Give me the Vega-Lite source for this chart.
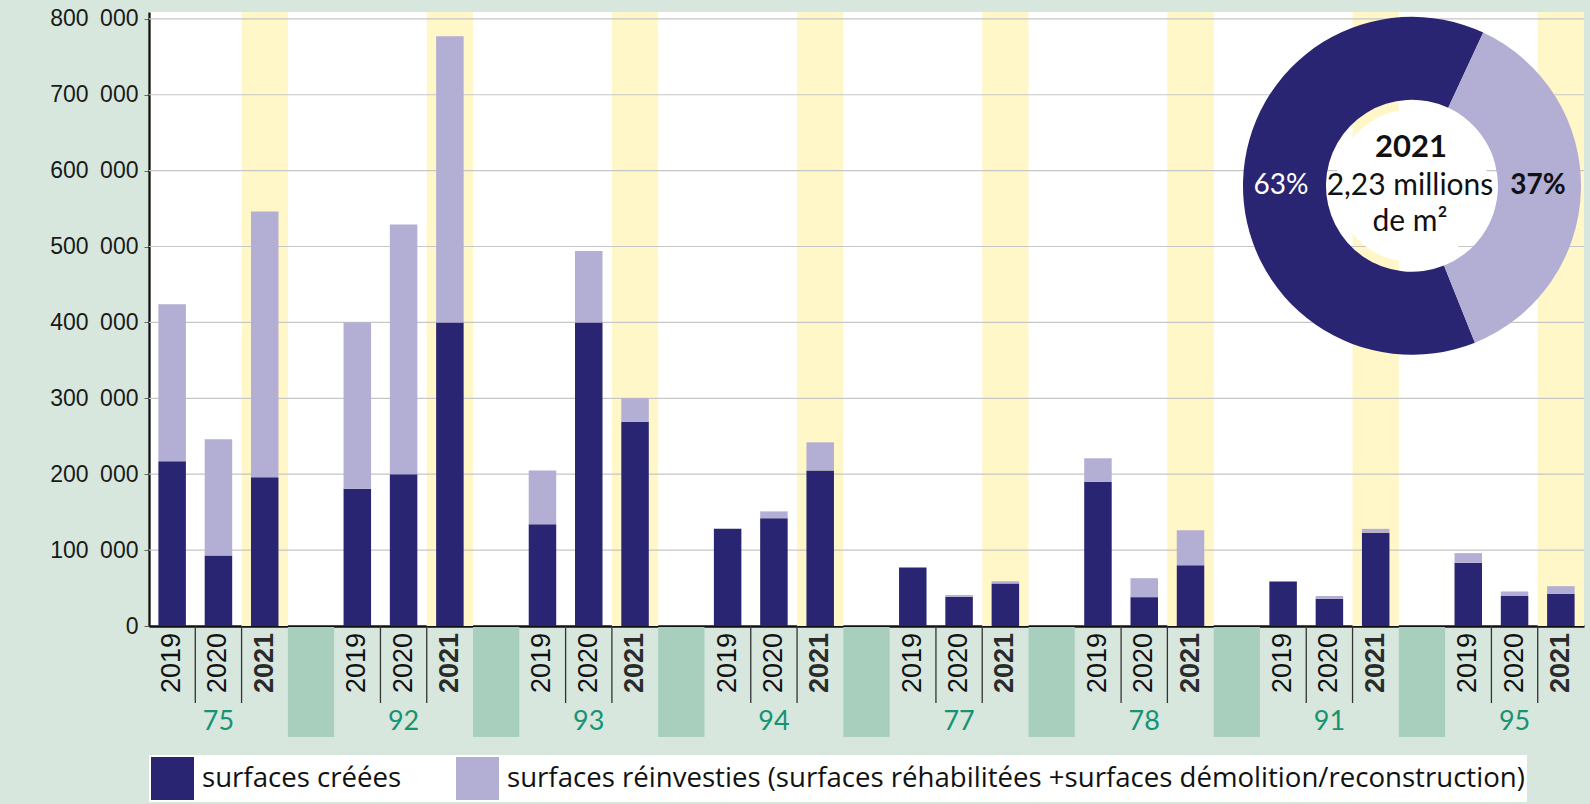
{
  "$schema": "https://vega.github.io/schema/vega-lite/v6.json",
  "background": "#d7e7de",
  "padding": {"left": 49, "top": 7, "right": 7, "bottom": 6},
  "bounds": "flush",
  "spacing": 0,
  "config": {
    "view": {"stroke": null},
    "font": "Liberation Sans",
    "axisX": {"labels": false, "ticks": false, "grid": false, "domainColor": "#111111", "domainWidth": 2.3},
    "axisY": {"grid": false, "domainColor": "#111111", "domainWidth": 2.3, "tickColor": "#666666", "tickSize": 5, "tickWidth": 1, "labelFont": "Liberation Sans", "labelFontSize": 23, "labelColor": "#1a1a1a", "labelPadding": 6},
    "legend": {
      "orient": "none", "legendX": 0, "legendY": 743, "direction": "horizontal",
      "symbolType": "square", "symbolSize": 1849, "symbolStrokeWidth": 0, "symbolOpacity": 1,
      "labelFont": "Open Sans", "labelFontSize": 27.6, "labelColor": "#111111", "labelLimit": 2000,
      "labelOffset": 8, "columnPadding": 54, "fillColor": "white", "padding": 2
    }
  },
  "datasets": {
    "bars": [
      {"slot": "75-2019", "dept": "75", "year": "2019", "type": "surfaces créées", "value": 217000},
      {"slot": "75-2019", "dept": "75", "year": "2019", "type": "surfaces réinvesties (surfaces réhabilitées +surfaces démolition/reconstruction)", "value": 207000},
      {"slot": "75-2020", "dept": "75", "year": "2020", "type": "surfaces créées", "value": 93000},
      {"slot": "75-2020", "dept": "75", "year": "2020", "type": "surfaces réinvesties (surfaces réhabilitées +surfaces démolition/reconstruction)", "value": 153000},
      {"slot": "75-2021", "dept": "75", "year": "2021", "type": "surfaces créées", "value": 196000},
      {"slot": "75-2021", "dept": "75", "year": "2021", "type": "surfaces réinvesties (surfaces réhabilitées +surfaces démolition/reconstruction)", "value": 350000},
      {"slot": "92-2019", "dept": "92", "year": "2019", "type": "surfaces créées", "value": 181000},
      {"slot": "92-2019", "dept": "92", "year": "2019", "type": "surfaces réinvesties (surfaces réhabilitées +surfaces démolition/reconstruction)", "value": 219000},
      {"slot": "92-2020", "dept": "92", "year": "2020", "type": "surfaces créées", "value": 200000},
      {"slot": "92-2020", "dept": "92", "year": "2020", "type": "surfaces réinvesties (surfaces réhabilitées +surfaces démolition/reconstruction)", "value": 329000},
      {"slot": "92-2021", "dept": "92", "year": "2021", "type": "surfaces créées", "value": 400000},
      {"slot": "92-2021", "dept": "92", "year": "2021", "type": "surfaces réinvesties (surfaces réhabilitées +surfaces démolition/reconstruction)", "value": 377000},
      {"slot": "93-2019", "dept": "93", "year": "2019", "type": "surfaces créées", "value": 134000},
      {"slot": "93-2019", "dept": "93", "year": "2019", "type": "surfaces réinvesties (surfaces réhabilitées +surfaces démolition/reconstruction)", "value": 71000},
      {"slot": "93-2020", "dept": "93", "year": "2020", "type": "surfaces créées", "value": 400000},
      {"slot": "93-2020", "dept": "93", "year": "2020", "type": "surfaces réinvesties (surfaces réhabilitées +surfaces démolition/reconstruction)", "value": 94000},
      {"slot": "93-2021", "dept": "93", "year": "2021", "type": "surfaces créées", "value": 269000},
      {"slot": "93-2021", "dept": "93", "year": "2021", "type": "surfaces réinvesties (surfaces réhabilitées +surfaces démolition/reconstruction)", "value": 31000},
      {"slot": "94-2019", "dept": "94", "year": "2019", "type": "surfaces créées", "value": 128000},
      {"slot": "94-2019", "dept": "94", "year": "2019", "type": "surfaces réinvesties (surfaces réhabilitées +surfaces démolition/reconstruction)", "value": 0},
      {"slot": "94-2020", "dept": "94", "year": "2020", "type": "surfaces créées", "value": 142000},
      {"slot": "94-2020", "dept": "94", "year": "2020", "type": "surfaces réinvesties (surfaces réhabilitées +surfaces démolition/reconstruction)", "value": 9000},
      {"slot": "94-2021", "dept": "94", "year": "2021", "type": "surfaces créées", "value": 205000},
      {"slot": "94-2021", "dept": "94", "year": "2021", "type": "surfaces réinvesties (surfaces réhabilitées +surfaces démolition/reconstruction)", "value": 37000},
      {"slot": "77-2019", "dept": "77", "year": "2019", "type": "surfaces créées", "value": 77000},
      {"slot": "77-2019", "dept": "77", "year": "2019", "type": "surfaces réinvesties (surfaces réhabilitées +surfaces démolition/reconstruction)", "value": 0},
      {"slot": "77-2020", "dept": "77", "year": "2020", "type": "surfaces créées", "value": 38500},
      {"slot": "77-2020", "dept": "77", "year": "2020", "type": "surfaces réinvesties (surfaces réhabilitées +surfaces démolition/reconstruction)", "value": 2300},
      {"slot": "77-2021", "dept": "77", "year": "2021", "type": "surfaces créées", "value": 56000},
      {"slot": "77-2021", "dept": "77", "year": "2021", "type": "surfaces réinvesties (surfaces réhabilitées +surfaces démolition/reconstruction)", "value": 3000},
      {"slot": "78-2019", "dept": "78", "year": "2019", "type": "surfaces créées", "value": 190000},
      {"slot": "78-2019", "dept": "78", "year": "2019", "type": "surfaces réinvesties (surfaces réhabilitées +surfaces démolition/reconstruction)", "value": 31000},
      {"slot": "78-2020", "dept": "78", "year": "2020", "type": "surfaces créées", "value": 38000},
      {"slot": "78-2020", "dept": "78", "year": "2020", "type": "surfaces réinvesties (surfaces réhabilitées +surfaces démolition/reconstruction)", "value": 25000},
      {"slot": "78-2021", "dept": "78", "year": "2021", "type": "surfaces créées", "value": 80000},
      {"slot": "78-2021", "dept": "78", "year": "2021", "type": "surfaces réinvesties (surfaces réhabilitées +surfaces démolition/reconstruction)", "value": 46000},
      {"slot": "91-2019", "dept": "91", "year": "2019", "type": "surfaces créées", "value": 58500},
      {"slot": "91-2019", "dept": "91", "year": "2019", "type": "surfaces réinvesties (surfaces réhabilitées +surfaces démolition/reconstruction)", "value": 0},
      {"slot": "91-2020", "dept": "91", "year": "2020", "type": "surfaces créées", "value": 36000},
      {"slot": "91-2020", "dept": "91", "year": "2020", "type": "surfaces réinvesties (surfaces réhabilitées +surfaces démolition/reconstruction)", "value": 3500},
      {"slot": "91-2021", "dept": "91", "year": "2021", "type": "surfaces créées", "value": 123000},
      {"slot": "91-2021", "dept": "91", "year": "2021", "type": "surfaces réinvesties (surfaces réhabilitées +surfaces démolition/reconstruction)", "value": 5000},
      {"slot": "95-2019", "dept": "95", "year": "2019", "type": "surfaces créées", "value": 83500},
      {"slot": "95-2019", "dept": "95", "year": "2019", "type": "surfaces réinvesties (surfaces réhabilitées +surfaces démolition/reconstruction)", "value": 12500},
      {"slot": "95-2020", "dept": "95", "year": "2020", "type": "surfaces créées", "value": 39500},
      {"slot": "95-2020", "dept": "95", "year": "2020", "type": "surfaces réinvesties (surfaces réhabilitées +surfaces démolition/reconstruction)", "value": 6000},
      {"slot": "95-2021", "dept": "95", "year": "2021", "type": "surfaces créées", "value": 42500},
      {"slot": "95-2021", "dept": "95", "year": "2021", "type": "surfaces réinvesties (surfaces réhabilitées +surfaces démolition/reconstruction)", "value": 10000}
    ],
    "gaps": [{"slot": "g1"}, {"slot": "g2"}, {"slot": "g3"}, {"slot": "g4"}, {"slot": "g5"}, {"slot": "g6"}, {"slot": "g7"}],
    "grid": [{"value": 100000}, {"value": 200000}, {"value": 300000}, {"value": 400000}, {"value": 500000}, {"value": 600000}, {"value": 700000}, {"value": 800000}],
    "donut": [
      {"type": "surfaces créées", "share": 63, "label": "63%"},
      {"type": "surfaces réinvesties (surfaces réhabilitées +surfaces démolition/reconstruction)", "share": 37, "label": "37%"}
    ],
    "center": [{"year": "2021", "total": "2,23 millions\nde m²"}]
  },
  "vconcat": [
    {
      "width": 1435,
      "height": 614,
      "view": {"fill": "white", "stroke": null},
      "layer": [
        {
          "data": {"name": "bars"},
          "transform": [{"filter": "datum.year === '2021' && datum.type === 'surfaces créées'"}],
          "mark": {"type": "bar", "color": "#fff7c7", "width": {"band": 1}},
          "encoding": {
            "x": {"field": "slot", "type": "nominal", "title": null, "scale": {"domain": ["75-2019","75-2020","75-2021","g1","92-2019","92-2020","92-2021","g2","93-2019","93-2020","93-2021","g3","94-2019","94-2020","94-2021","g4","77-2019","77-2020","77-2021","g5","78-2019","78-2020","78-2021","g6","91-2019","91-2020","91-2021","g7","95-2019","95-2020","95-2021"], "paddingInner": 0, "paddingOuter": 0}},
            "y": {"datum": 809000, "type": "quantitative", "scale": {"domain": [0, 809000], "nice": false}}
          }
        },
        {
          "data": {"name": "grid"},
          "mark": {"type": "rule", "color": "#c6c6c6", "strokeWidth": 1.2},
          "encoding": {
            "y": {"field": "value", "type": "quantitative", "title": null, "scale": {"domain": [0, 809000], "nice": false}}
          }
        },
        {
          "data": {"name": "bars"},
          "mark": {"type": "bar", "width": {"band": 0.594}},
          "encoding": {
            "x": {"field": "slot", "type": "nominal", "title": null},
            "y": {"field": "value", "type": "quantitative", "stack": "zero", "title": null, "scale": {"domain": [0, 809000], "nice": false}, "axis": {"values": [0, 100000, 200000, 300000, 400000, 500000, 600000, 700000, 800000], "labelExpr": "replace(format(datum.value, ','), ',', '\u2002')"}},
            "color": {"field": "type", "type": "nominal", "title": null, "scale": {"domain": ["surfaces créées", "surfaces réinvesties (surfaces réhabilitées +surfaces démolition/reconstruction)"], "range": ["#2a2572", "#b3aed3"]}},
            "order": {"field": "type", "type": "nominal", "sort": "ascending"}
          }
        },
        {
          "data": {"name": "donut"},
          "mark": {"type": "arc", "outerRadius": 169, "innerRadius": 86, "thetaOffset": 2.76, "theta2Offset": 2.76, "xOffset": -10, "stroke": null},
          "encoding": {
            "x": {"datum": "g7", "type": "nominal"},
            "y": {"datum": 580000, "type": "quantitative"},
            "theta": {"field": "share", "type": "quantitative", "stack": true},
            "color": {"field": "type", "type": "nominal", "title": null}
          }
        },
        {
          "data": {"name": "center"},
          "mark": {"type": "point", "shape": "circle", "filled": true, "color": "white", "opacity": 1, "size": 23235, "strokeWidth": 0, "xOffset": -10},
          "encoding": {
            "x": {"datum": "g7", "type": "nominal"},
            "y": {"datum": 580000, "type": "quantitative"}
          }
        },
        {
          "data": {"name": "center"},
          "mark": {"type": "text", "font": "Lato", "fontSize": 31, "fontWeight": "bold", "color": "#111111", "baseline": "alphabetic", "align": "center", "xOffset": -11, "dy": -29},
          "encoding": {
            "x": {"datum": "g7", "type": "nominal"},
            "y": {"datum": 580000, "type": "quantitative"},
            "text": {"field": "year"}
          }
        },
        {
          "data": {"name": "center"},
          "mark": {"type": "text", "font": "Lato", "fontSize": 30, "color": "#111111", "baseline": "alphabetic", "align": "center", "lineBreak": "\n", "lineHeight": 36, "xOffset": -12, "dy": 9},
          "encoding": {
            "x": {"datum": "g7", "type": "nominal"},
            "y": {"datum": 580000, "type": "quantitative"},
            "text": {"field": "total"}
          }
        },
        {
          "data": {"name": "donut"},
          "transform": [{"filter": "datum.share === 63"}],
          "mark": {"type": "text", "font": "Lato", "fontSize": 28, "color": "white", "baseline": "middle", "align": "center", "xOffset": -141},
          "encoding": {
            "x": {"datum": "g7", "type": "nominal"},
            "y": {"datum": 580000, "type": "quantitative"},
            "text": {"field": "label"}
          }
        },
        {
          "data": {"name": "donut"},
          "transform": [{"filter": "datum.share === 37"}],
          "mark": {"type": "text", "font": "Lato", "fontSize": 28, "fontWeight": "bold", "color": "#111111", "baseline": "middle", "align": "center", "xOffset": 116},
          "encoding": {
            "x": {"datum": "g7", "type": "nominal"},
            "y": {"datum": 580000, "type": "quantitative"},
            "text": {"field": "label"}
          }
        }
      ]
    },
    {
      "width": 1435,
      "height": 111,
      "view": {"stroke": null},
      "layer": [
        {
          "data": {"name": "gaps"},
          "mark": {"type": "bar", "color": "#a8cfbd", "width": {"band": 1}},
          "encoding": {
            "x": {"field": "slot", "type": "nominal", "axis": null, "scale": {"domain": ["75-2019","75-2020","75-2021","g1","92-2019","92-2020","92-2021","g2","93-2019","93-2020","93-2021","g3","94-2019","94-2020","94-2021","g4","77-2019","77-2020","77-2021","g5","78-2019","78-2020","78-2021","g6","91-2019","91-2020","91-2021","g7","95-2019","95-2020","95-2021"], "paddingInner": 0, "paddingOuter": 0}},
            "y": {"datum": 0.99, "type": "quantitative", "axis": null, "scale": {"domain": [0, 1], "nice": false}}
          }
        },
        {
          "data": {"name": "bars"},
          "transform": [{"filter": "datum.type === 'surfaces créées' && datum.year !== '2019'"}],
          "mark": {"type": "rule", "color": "#333333", "strokeWidth": 1.3},
          "encoding": {
            "x": {"field": "slot", "type": "nominal", "axis": null, "bandPosition": 0},
            "y": {"datum": 1, "type": "quantitative", "axis": null},
            "y2": {"datum": 0.306}
          }
        },
        {
          "data": {"name": "bars"},
          "transform": [{"filter": "datum.type === 'surfaces créées' && datum.year !== '2021'"}],
          "mark": {"type": "text", "angle": 270, "align": "right", "baseline": "middle", "font": "Liberation Sans", "fontSize": 27, "color": "#111111"},
          "encoding": {
            "x": {"field": "slot", "type": "nominal", "axis": null},
            "y": {"datum": 0.937, "type": "quantitative", "axis": null},
            "text": {"field": "year"}
          }
        },
        {
          "data": {"name": "bars"},
          "transform": [{"filter": "datum.type === 'surfaces créées' && datum.year === '2021'"}],
          "mark": {"type": "text", "angle": 270, "align": "right", "baseline": "middle", "font": "Liberation Sans", "fontSize": 27, "fontWeight": "bold", "color": "#2b2b2b"},
          "encoding": {
            "x": {"field": "slot", "type": "nominal", "axis": null},
            "y": {"datum": 0.937, "type": "quantitative", "axis": null},
            "text": {"field": "year"}
          }
        },
        {
          "data": {"name": "bars"},
          "transform": [{"filter": "datum.type === 'surfaces créées' && datum.year === '2020'"}],
          "mark": {"type": "text", "align": "center", "baseline": "middle", "font": "Lato", "fontSize": 27, "color": "#169373"},
          "encoding": {
            "x": {"field": "slot", "type": "nominal", "axis": null},
            "y": {"datum": 0.135, "type": "quantitative", "axis": null},
            "text": {"field": "dept"}
          }
        }
      ]
    }
  ]
}
